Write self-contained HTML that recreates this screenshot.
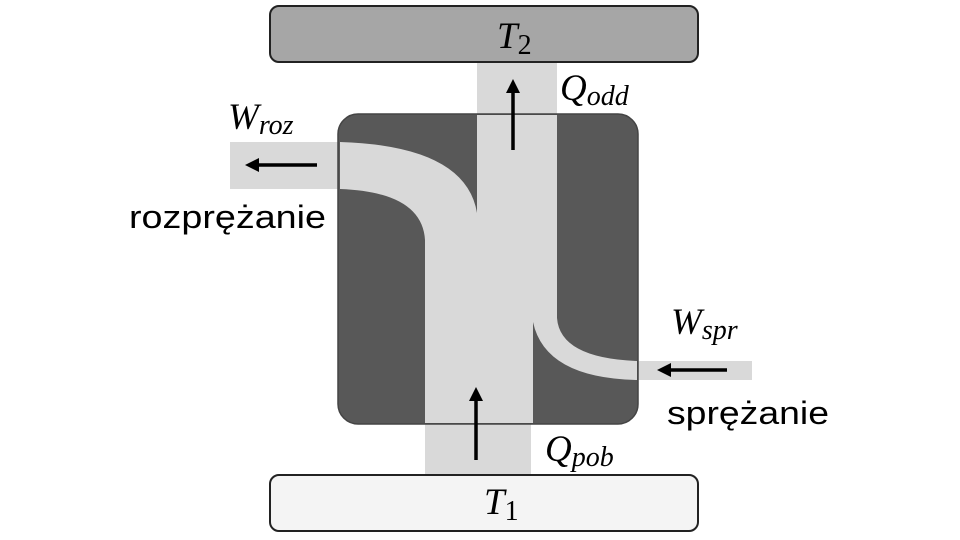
<!DOCTYPE html>
<html><head><meta charset="utf-8"><style>
html,body{margin:0;padding:0;background:#fff;width:960px;height:540px;overflow:hidden}
</style></head><body>
<svg width="960" height="540" viewBox="0 0 960 540" xmlns="http://www.w3.org/2000/svg">
<defs>
<marker id="ah" viewBox="0 0 10 10" refX="5" refY="5" markerWidth="4" markerHeight="4" orient="auto-start-reverse"><path d="M0,0 L10,5 L0,10 z" fill="#000"/></marker>
</defs>
<rect x="477" y="60" width="80" height="56" fill="#d9d9d9"/>
<rect x="230" y="142" width="112" height="47" fill="#d9d9d9"/>
<rect x="634" y="361" width="118" height="19" fill="#d9d9d9"/>
<rect x="425" y="420" width="106" height="57" fill="#d9d9d9"/>
<rect x="270" y="6" width="428" height="56" rx="9" fill="#a6a6a6" stroke="#222" stroke-width="2"/>
<rect x="270" y="475" width="428" height="56" rx="9" fill="#f4f4f4" stroke="#222" stroke-width="2"/>
<rect x="338" y="114" width="300" height="310" rx="20" fill="#585858" stroke="#444" stroke-width="1.5"/>
<path d="M477,115 L557,115 L557,318 Q560,358 637,361 L637,380 Q545,378 533,322 L533,423 L425,423 L425,240 Q422,192 340,189 L340,142 Q466,146 477,213 Z" fill="#d9d9d9"/>
<g stroke="#000" stroke-width="3.5">
<line x1="513" y1="150" x2="513" y2="86" marker-end="url(#ah)"/>
<line x1="317" y1="165" x2="252" y2="165" marker-end="url(#ah)"/>
<line x1="727" y1="370" x2="664" y2="370" marker-end="url(#ah)"/>
<line x1="476" y1="460" x2="476" y2="394" marker-end="url(#ah)"/>
</g>
<g font-family="Liberation Serif, serif" font-style="italic" fill="#000">
<text x="497" y="48" font-size="37">T<tspan font-size="28" font-style="normal" dy="6">2</tspan></text>
<text x="484" y="514" font-size="37">T<tspan font-size="28" font-style="normal" dy="6">1</tspan></text>
<text x="560" y="100" font-size="37">Q<tspan font-size="28" dy="5">odd</tspan></text>
<text x="228" y="129" font-size="37">W<tspan font-size="28" dy="5">roz</tspan></text>
<text x="671" y="334" font-size="37">W<tspan font-size="28" dy="5">spr</tspan></text>
<text x="545" y="461" font-size="37">Q<tspan font-size="28" dy="5">pob</tspan></text>
</g>
<g font-family="Liberation Sans, sans-serif" font-size="32" fill="#000">
<text x="129" y="228" textLength="197" lengthAdjust="spacingAndGlyphs">rozprężanie</text>
<text x="667" y="424" textLength="162" lengthAdjust="spacingAndGlyphs">sprężanie</text>
</g>
</svg>
</body></html>
